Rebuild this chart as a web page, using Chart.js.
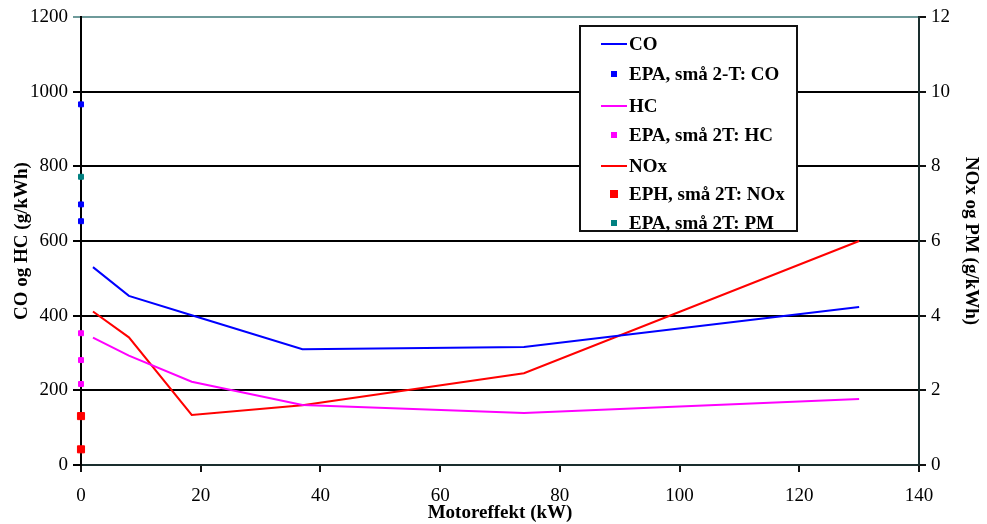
<!DOCTYPE html>
<html>
<head>
<meta charset="utf-8">
<script src="https://cdn.jsdelivr.net/npm/chart.js@4"></script>
<style>
  body { margin: 0; background: #fff; }
  #wrap { position: relative; width: 987px; height: 524px; }
  #legend {
    position: absolute; left: 579px; top: 25px; width: 215px; height: 203px;
    border: 2px solid #111; background: #fff;
    font-family: "Liberation Serif", "Times New Roman", serif; font-weight: bold; font-size: 19px;
  }
  .row { position: absolute; left: 0; height: 20px; line-height: 20px; white-space: nowrap; }
  .row .mark { position: absolute; left: 20px; top: 0; width: 26px; height: 20px; }
  .row span.txt { position: absolute; left: 48px; }
</style>
</head>
<body>
<div id="wrap">
  <canvas id="myChart" width="987" height="524"></canvas>
  <div id="legend"></div>
</div>
<script>
// motor power (kW) for the measured engines
const power = [2, 8, 18.5, 37, 74, 130];
const co = [530, 453, 401, 310, 316, 423];
const hc = [341, 293, 223, 161, 139, 177];
const nox = [4.11, 3.42, 1.34, 1.6, 2.46, 6.0];

// EPA limits for small 2-stroke, plotted at x = 0
const epaCo = [966, 698, 653];
const epaHc = [353, 281, 217];
const ephNox = [1.31, 0.42];
const epaPm = [7.72];

const xTicks = [0, 20, 40, 60, 80, 100, 120, 140];

const atZero = (vals) => vals.map((v) => ({ x: 0, y: v }));
const pairs = (vals) => vals.map((v, i) => ({ x: power[i], y: v }));

const serif = '"Liberation Serif", "Times New Roman", serif';

const datasets = [
  { label: "CO", data: pairs(co), borderColor: "#0000ff", yAxisID: "y", kind: "line" },
  { label: "EPA, små 2-T: CO", data: atZero(epaCo), backgroundColor: "#0000ff", borderColor: "#0000ff", yAxisID: "y", kind: "pt", size: 3.5 },
  { label: "HC", data: pairs(hc), borderColor: "#ff00ff", yAxisID: "y", kind: "line" },
  { label: "EPA, små 2T: HC", data: atZero(epaHc), backgroundColor: "#ff00ff", borderColor: "#ff00ff", yAxisID: "y", kind: "pt", size: 3.5 },
  { label: "NOx", data: pairs(nox), borderColor: "#ff0000", yAxisID: "y2", kind: "line" },
  { label: "EPH, små 2T: NOx", data: atZero(ephNox), backgroundColor: "#ff0000", borderColor: "#ff0000", yAxisID: "y2", kind: "pt", size: 5 },
  { label: "EPA, små 2T: PM", data: atZero(epaPm), backgroundColor: "#008080", borderColor: "#008080", yAxisID: "y2", kind: "pt", size: 3.5 },
].map((d) => {
  if (d.kind === "line") {
    return { ...d, type: "line", borderWidth: 2, pointRadius: 0, fill: false, tension: 0, clip: false };
  }
  return { ...d, type: "line", showLine: false, pointStyle: "rect", pointRadius: d.size, pointBorderWidth: 1, clip: false };
});

const plain = (v) => String(v);

const config = {
  type: "line",
  data: { datasets },
  options: {
    responsive: false,
    animation: false,
    devicePixelRatio: 1,
    layout: { padding: { top: 17, left: 0, right: 0, bottom: 0 } },
    plugins: { legend: { display: false }, tooltip: { enabled: false } },
    scales: {
      x: {
        type: "linear",
        min: 0,
        max: 140,
        afterFit: (s) => { s.height = 59; },
        afterBuildTicks: (s) => { s.ticks = xTicks.map((v) => ({ value: v })); },
        grid: { drawOnChartArea: false, tickLength: 7, color: "#111", lineWidth: 2 },
        border: { color: "#1a2e2e", width: 2 },
        ticks: { padding: 13, color: "#000", callback: plain, font: { family: serif, size: 19 } },
        title: { display: true, text: "Motoreffekt (kW)", color: "#000", padding: { top: 0, bottom: 0 }, font: { family: serif, size: 19, weight: "bold" } },
      },
      y: {
        position: "left",
        min: 0,
        max: 1200,
        afterFit: (s) => { s.width = 81; },
        grid: {
          color: (c) => (c.tick && c.tick.value === 1200 ? "#6e9a9a" : "#000"),
          lineWidth: 2,
          tickLength: 8,
        },
        border: { color: "#000", width: 2 },
        ticks: { stepSize: 200, padding: 5, color: "#000", callback: plain, font: { family: serif, size: 19 } },
        title: { display: true, text: "CO og HC (g/kWh)", color: "#000", padding: { top: 11, bottom: 0 }, font: { family: serif, size: 19, weight: "bold" } },
      },
      y2: {
        position: "right",
        min: 0,
        max: 12,
        afterFit: (s) => { s.width = 68; },
        grid: { drawOnChartArea: false, tickLength: 7, color: "#111", lineWidth: 2 },
        border: { color: "#1a2e2e", width: 2 },
        ticks: { stepSize: 2, padding: 5, color: "#000", callback: plain, font: { family: serif, size: 19 } },
        title: { display: true, text: "NOx og PM (g/kWh)", color: "#000", padding: { top: 5, bottom: 0 }, font: { family: serif, size: 19, weight: "bold" } },
      },
    },
  },
};

const myChart = new Chart(document.getElementById("myChart"), config);

// legend box inside the plot, built from the datasets
const legend = document.getElementById("legend");
const rowTops = [7, 37, 69, 98, 129, 157, 186];
myChart.data.datasets.forEach((d, i) => {
  const row = document.createElement("div");
  row.className = "row";
  row.style.top = rowTops[i] + "px";
  const mark = document.createElement("div");
  mark.className = "mark";
  const c = document.createElement("div");
  c.style.position = "absolute";
  if (d.kind === "line") {
    c.style.left = "0px"; c.style.top = "9px"; c.style.width = "26px"; c.style.height = "2px";
    c.style.background = d.borderColor;
  } else {
    const sz = d.size === 5 ? 8 : 6;
    c.style.left = (13 - sz / 2) + "px"; c.style.top = (10 - sz / 2) + "px";
    c.style.width = sz + "px"; c.style.height = sz + "px";
    c.style.background = d.backgroundColor;
  }
  mark.appendChild(c);
  const txt = document.createElement("span");
  txt.className = "txt";
  txt.textContent = d.label;
  row.appendChild(mark);
  row.appendChild(txt);
  legend.appendChild(row);
});
</script>
</body>
</html>
